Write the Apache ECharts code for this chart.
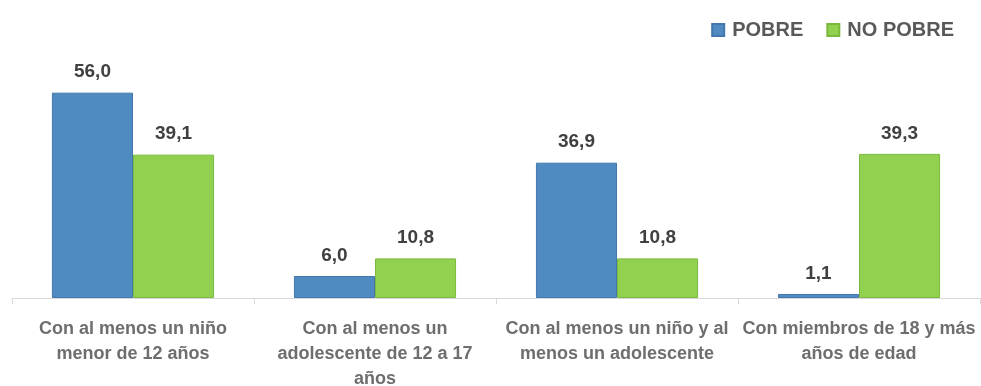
<!DOCTYPE html>
<html>
<head>
<meta charset="utf-8">
<script src="https://cdn.jsdelivr.net/npm/echarts@6/dist/echarts.min.js"></script>
<style>
  html, body { margin: 0; padding: 0; background: #ffffff; }
  #chart { width: 981px; height: 386px; }
</style>
</head>
<body>
<div id="chart"></div>
<script>
// Household categories and shares (%) by poverty status
const categories = [
  'Con al menos un niño\nmenor de 12 años',
  'Con al menos un\nadolescente de 12 a 17\naños',
  'Con al menos un niño y al\nmenos un adolescente',
  'Con miembros de 18 y más\naños de edad'
];
const seriesNames = ['POBRE', 'NO POBRE'];
const pobre = [56.0, 6.0, 36.9, 1.1];
const noPobre = [39.1, 10.8, 10.8, 39.3];

const FONT = '"Liberation Sans Narrow", "Arial Narrow", "Liberation Sans", Arial, sans-serif';

const fmt = p => p.value.toFixed(1).replace('.', ',');

const labelStyle = {
  show: true,
  position: 'top',
  distance: 11,
  formatter: fmt,
  color: '#404040',
  fontFamily: FONT,
  fontWeight: 'bold',
  fontSize: 19
};

const chart = echarts.init(document.getElementById('chart'), null, { renderer: 'canvas' });
chart.setOption({
  animation: false,
  backgroundColor: '#ffffff',
  legend: {
    data: seriesNames,
    top: 15,
    right: 22,
    itemWidth: 12,
    itemHeight: 12,
    itemGap: 23,
    icon: 'rect',
    textStyle: { color: '#595959', fontFamily: FONT, fontWeight: 'bold', fontSize: 20, padding: [0, 0, 0, 3] }
  },
  grid: { left: 12, right: 1, top: 78, bottom: 88, containLabel: false, outerBoundsMode: 'none' },
  xAxis: {
    type: 'category',
    data: categories,
    axisLine: { lineStyle: { color: '#d9d9d9', width: 1 } },
    axisTick: { show: true, length: 6, lineStyle: { color: '#d9d9d9' } },
    axisLabel: {
      interval: 0,
      margin: 19,
      color: '#6e6e6e',
      fontFamily: FONT,
      fontWeight: 'bold',
      fontSize: 18,
      lineHeight: 25
    }
  },
  yAxis: {
    type: 'value',
    min: 0,
    max: 60,
    show: false,
    splitLine: { show: false }
  },
  series: [
    {
      name: seriesNames[0],
      type: 'bar',
      data: pobre,
      barGap: '0%',
      barCategoryGap: '33%',
      itemStyle: { color: '#4F8BC0', borderColor: '#4377AE', borderWidth: 1 },
      label: labelStyle
    },
    {
      name: seriesNames[1],
      type: 'bar',
      data: noPobre,
      itemStyle: { color: '#92D050', borderColor: '#7AB93E', borderWidth: 1 },
      label: labelStyle
    }
  ]
});
</script>
</body>
</html>
